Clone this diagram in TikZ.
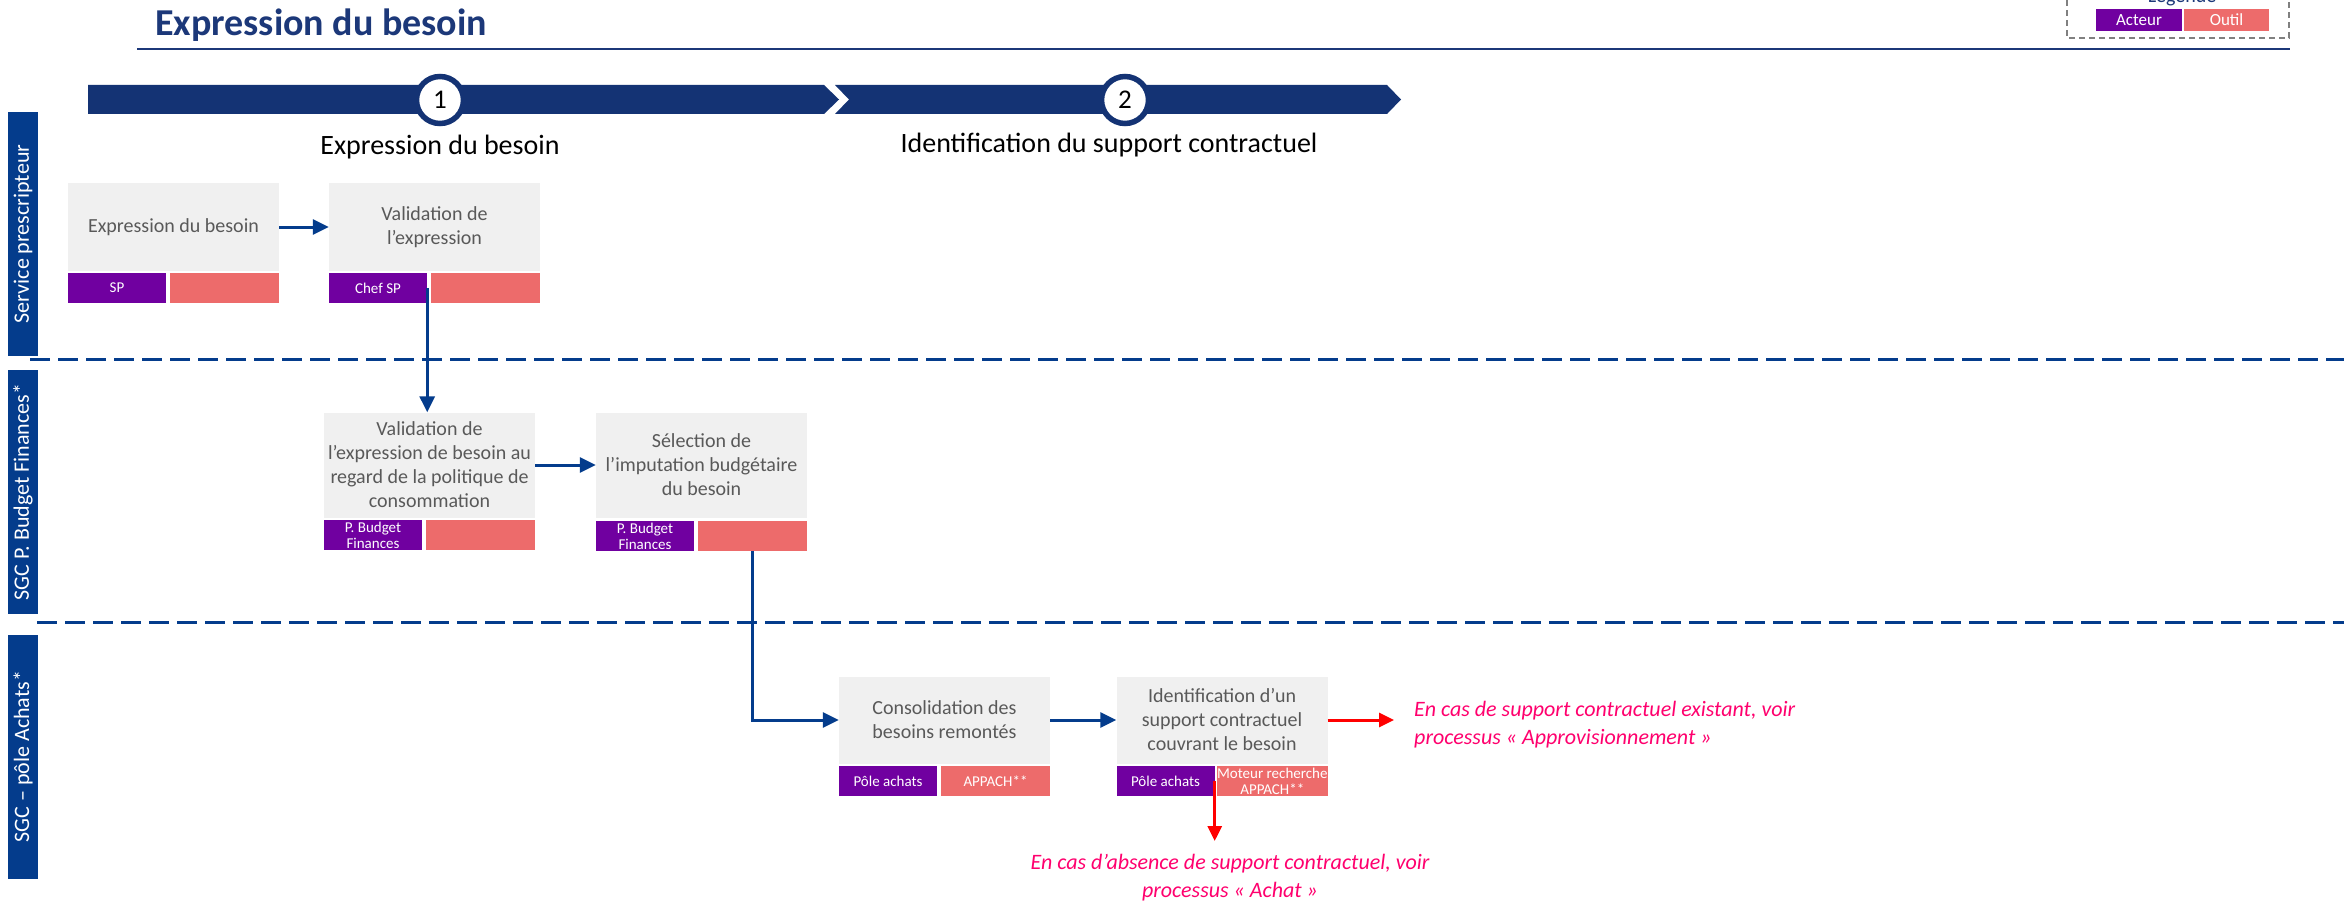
\documentclass[tikz,border=0pt]{standalone}
\usepackage{fontspec}
\setmainfont{Carlito}
\usetikzlibrary{arrows.meta,positioning}

\definecolor{titleblue}{RGB}{28,56,121}
\definecolor{barblue}{RGB}{20,51,116}
\definecolor{laneblue}{RGB}{4,60,140}
\definecolor{boxgray}{RGB}{240,240,240}
\definecolor{textgray}{RGB}{89,89,89}
\definecolor{actorpurple}{RGB}{112,0,160}
\definecolor{toolsalmon}{RGB}{237,107,107}
\definecolor{notepink}{RGB}{255,0,110}

\begin{document}
\begin{tikzpicture}[
            x=1pt, y=-1pt,
            task/.style={fill=boxgray, text=textgray, align=center, inner sep=0pt, minimum width=211pt, minimum height=87pt, font=\fontsize{20}{24}\selectfont},
            actor/.style={fill=actorpurple, text=white, align=center, inner sep=0pt, minimum width=98pt, minimum height=30pt, font=\fontsize{15}{16}\selectfont},
            tool/.style={fill=toolsalmon, text=white, align=center, inner sep=0pt, minimum width=109pt, minimum height=30pt, font=\fontsize{15}{16}\selectfont},
            lane/.style={fill=laneblue, text=white, rotate=90, inner sep=0pt, minimum width=244pt, minimum height=30pt, font=\fontsize{22}{26}\selectfont},
            phase/.style={circle, draw=barblue, line width=5.5pt, fill=white, minimum size=47pt, inner sep=0pt, font=\fontsize{27}{30}\selectfont},
            phase_label/.style={font=\fontsize{28}{32}\selectfont, anchor=base},
            note/.style={text=notepink, font=\fontsize{22}{28}\selectfont\itshape, inner sep=0pt},
            line/.style={draw=laneblue, line width=3pt, -{Triangle[length=16pt,width=15pt]}},
            red_line/.style={draw=red, line width=3pt, -{Triangle[length=15pt,width=14pt]}},
            lane_sep/.style={draw=laneblue, line width=3pt, dash pattern=on 20pt off 8pt}
        ]
        \fill[white] (0,0) rectangle (2344,904);
        \useasboundingbox (0,0) rectangle (2344,904);

        % Title and legend
        \node[font=\fontsize{38}{44}\selectfont\bfseries, text=titleblue, anchor=base west, inner sep=0pt] (title) at (155,36) {Expression du besoin};
        \draw[titleblue, line width=2.5pt] (137,49) -- (2290,49);

        \draw[gray, line width=1.5pt, dash pattern=on 6pt off 4pt] (2067,-40) rectangle (2289,38);
        \node[font=\fontsize{20}{24}\selectfont, text=titleblue, anchor=base] (legend_title) at (2182,3) {Légende};
        \node[actor, minimum width=86pt, minimum height=22pt, font=\fontsize{17}{20}\selectfont] (legend_actor) at (2139,20) {Acteur};
        \node[tool, minimum width=85pt, minimum height=22pt, font=\fontsize{17}{20}\selectfont] (legend_tool) at (2226.5,20) {Outil};

        % Phases
        \fill[barblue] (88,85) -- (824,85) -- (839,99.5) -- (824,114) -- (88,114) -- cycle;
        \fill[barblue] (835,85) -- (1387,85) -- (1401,99.5) -- (1387,114) -- (835,114) -- (849,99.5) -- cycle;
        \node[phase] (phase1) at (440,100) {1};
        \node[phase] (phase2) at (1125,100) {2};
        \node[phase_label] (phase1_label) at (440,155) {Expression du besoin};
        \node[phase_label] (phase2_label) at (1109,153) {Identification du support contractuel};

        % Lanes
        \node[lane] (lane_sp) at (23,234) {Service prescripteur};
        \node[lane] (lane_budget) at (23,492) {SGC P. Budget Finances*};
        \node[lane] (lane_achats) at (23,756.5) {SGC – pôle Achats*};
        \draw[lane_sep] (30,359) -- (2344,359);
        \draw[lane_sep] (37,622) -- (2344,622);

        % Service prescripteur
        \node[task] (besoin) at (173.5,227) {Expression du besoin};
        \node[actor, below right=2pt and 0pt of besoin.south west] (besoin_actor) {SP};
        \node[tool, below left=2pt and 0pt of besoin.south east] (besoin_tool) {};

        \node[task] (validation) at (434.5,227) {Validation de\\l’expression};
        \node[actor, below right=2pt and 0pt of validation.south west] (validation_actor) {Chef SP};
        \node[tool, below left=2pt and 0pt of validation.south east] (validation_tool) {};

        % SGC P. Budget Finances
        \node[task, minimum height=105pt] (politique) at (429.5,465) {Validation de\\l’expression de besoin au\\regard de la politique de\\consommation};
        \node[actor, below right=2pt and 0pt of politique.south west] (politique_actor) {P. Budget\\Finances};
        \node[tool, below left=2pt and 0pt of politique.south east] (politique_tool) {};

        \node[task, minimum height=105pt] (imputation) at (701.5,465) {Sélection de\\l’imputation budgétaire\\du besoin};
        \node[actor, below right=3pt and 0pt of imputation.south west] (imputation_actor) {P. Budget\\Finances};
        \node[tool, below left=3pt and 0pt of imputation.south east] (imputation_tool) {};

        % SGC pole Achats
        \node[task] (consolidation) at (944.5,720) {Consolidation des\\besoins remontés};
        \node[actor, below right=2pt and 0pt of consolidation.south west] (consolidation_actor) {Pôle achats};
        \node[tool, below left=2pt and 0pt of consolidation.south east] (consolidation_tool) {APPACH**};

        \node[task] (identification) at (1222,720) {Identification d’un\\support contractuel\\couvrant le besoin};
        \node[actor, below right=2pt and 0pt of identification.south west] (identification_actor) {Pôle achats};
        \node[tool, below left=2pt and 0pt of identification.south east] (identification_tool) {Moteur recherche\\APPACH**};

        % Notes
        \node[note, align=left, anchor=west] (existant) at (1414,725) {En cas de support contractuel existant, voir\\processus « Approvisionnement »};
        \node[note, align=center, anchor=north] (absence) at (1230,854) {En cas d’absence de support contractuel, voir\\processus « Achat »};

        \draw[line] (besoin) -- (validation);
        \draw[line] (validation_actor.east) -- (validation_actor.east |- politique.north);
        \draw[line] (politique) -- (imputation);
        \draw[line] (imputation_tool.south) |- (consolidation.west);
        \draw[line] (consolidation) -- (identification);

        \draw[red_line, shorten >=20pt] (identification.east) -- (identification.east -| existant.west);
        \draw[red_line, shorten >=13pt] (identification_actor.east) -- (identification_actor.east |- absence.north);

    \end{tikzpicture}
\end{document}
